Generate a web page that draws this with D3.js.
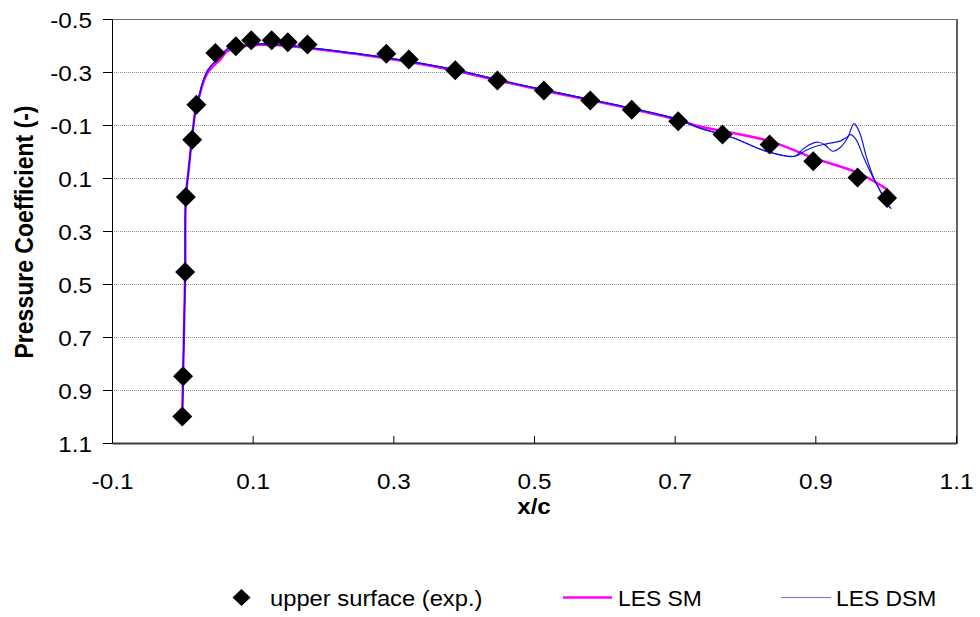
<!DOCTYPE html>
<html>
<head>
<meta charset="utf-8">
<script src="https://cdn.jsdelivr.net/npm/d3@7"></script>
<style>
  html, body { margin: 0; padding: 0; background: #fff; }
  svg { display: block; }
  text { font-family: "Liberation Sans", Arial, Helvetica, sans-serif; fill: #000; }
</style>
</head>
<body>
<svg id="chart" width="980" height="617"></svg>
<script>
// ---------- data ----------
const xTicks = [-0.1, 0.1, 0.3, 0.5, 0.7, 0.9, 1.1];
const yTicks = [-0.5, -0.3, -0.1, 0.1, 0.3, 0.5, 0.7, 0.9, 1.1];

// experiment: upper surface
const expX  = [0.000, 0.001, 0.004, 0.005, 0.014, 0.020, 0.047, 0.076, 0.098, 0.127, 0.150, 0.178, 0.290, 0.322, 0.388, 0.448, 0.514, 0.580, 0.639, 0.705, 0.768, 0.835, 0.897, 0.960, 1.002];
const expCp = [1.000, 0.848, 0.455, 0.172, -0.044, -0.176, -0.372, -0.397, -0.420, -0.420, -0.412, -0.404, -0.369, -0.347, -0.307, -0.268, -0.230, -0.192, -0.158, -0.114, -0.064, -0.026, 0.037, 0.098, 0.175];

// LES SM
const smX  = [0.000, 0.001, 0.004, 0.005, 0.009, 0.0135, 0.020, 0.024, 0.029, 0.036, 0.043, 0.053, 0.064, 0.081, 0.110, 0.138, 0.176, 0.280, 0.387, 0.448, 0.514, 0.579, 0.639, 0.704, 0.735, 0.835, 0.897, 0.960, 1.002];
const smCp = [0.990, 0.849, 0.458, 0.174, 0.068, -0.045, -0.177, -0.207, -0.255, -0.297, -0.320, -0.345, -0.378, -0.394, -0.403, -0.401, -0.391, -0.356, -0.306, -0.268, -0.230, -0.194, -0.160, -0.119, -0.095, -0.039, 0.024, 0.080, 0.143];

// LES DSM (two traces)
const dsm1X  = [0.000, 0.001, 0.004, 0.005, 0.009, 0.0135, 0.020, 0.024, 0.029, 0.036, 0.043, 0.053, 0.064, 0.081, 0.110, 0.138, 0.176, 0.280, 0.387, 0.448, 0.514, 0.579, 0.639, 0.704, 0.735, 0.783, 0.830, 0.871, 0.882, 0.892, 0.904, 0.913, 0.925, 0.935, 0.946, 0.955, 0.963, 0.973, 0.984, 0.994, 1.003, 1.008];
const dsm1Cp = [0.990, 0.849, 0.458, 0.174, 0.068, -0.045, -0.177, -0.211, -0.262, -0.306, -0.330, -0.356, -0.387, -0.399, -0.406, -0.403, -0.393, -0.358, -0.309, -0.271, -0.233, -0.197, -0.163, -0.122, -0.089, -0.052, -0.001, 0.018, -0.008, -0.026, -0.035, -0.026, -0.001, -0.014, -0.052, -0.105, -0.071, 0.024, 0.106, 0.156, 0.200, 0.216];
const dsm2X  = [0.000, 0.001, 0.004, 0.005, 0.009, 0.0135, 0.020, 0.024, 0.029, 0.036, 0.043, 0.053, 0.064, 0.081, 0.110, 0.138, 0.176, 0.280, 0.387, 0.448, 0.514, 0.579, 0.639, 0.704, 0.735, 0.783, 0.830, 0.871, 0.887, 0.899, 0.916, 0.935, 0.944, 0.950, 0.958, 0.968, 0.980, 0.991, 1.001, 1.006];
const dsm2Cp = [0.990, 0.849, 0.458, 0.174, 0.068, -0.045, -0.177, -0.211, -0.262, -0.306, -0.330, -0.356, -0.387, -0.399, -0.406, -0.403, -0.393, -0.358, -0.309, -0.271, -0.233, -0.197, -0.163, -0.122, -0.089, -0.052, -0.001, 0.018, -0.005, -0.018, -0.029, -0.039, -0.052, -0.064, -0.045, 0.018, 0.087, 0.143, 0.194, 0.212];

const legendLabels = ["upper surface (exp.)", "LES SM", "LES DSM"];

// ---------- chart ----------
const svg = d3.select("#chart");
const L = 112, R = 956, T = 19, B = 443;
const SX = 1.08; // slight horizontal text stretch of original

const x = d3.scaleLinear().domain([-0.1, 1.1]).range([L, R]);
const y = d3.scaleLinear().domain([-0.5, 1.1]).range([T, B]);
const fmt = d => d.toFixed(1);

// gridlines
svg.append("g")
  .selectAll("line").data(yTicks).join("line")
  .attr("x1", L).attr("x2", R)
  .attr("y1", d => y(d) + 0.5).attr("y2", d => y(d) + 0.5)
  .attr("stroke", "#8a8a8a").attr("stroke-width", 1)
  .attr("stroke-dasharray", "1,1");

// plot border (top/right)
svg.append("line").attr("x1", L).attr("x2", R + 1).attr("y1", T + 0.5).attr("y2", T + 0.5)
  .attr("stroke", "#707070").attr("stroke-width", 1);
svg.append("line").attr("x1", R + 1).attr("x2", R + 1).attr("y1", T).attr("y2", B + 1)
  .attr("stroke", "#606060").attr("stroke-width", 2);

// y axis
const yAxis = svg.append("g").attr("transform", `translate(${L},0)`)
  .call(d3.axisLeft(y).tickValues(yTicks).tickFormat(fmt).tickSizeOuter(0).tickSize(9));
yAxis.select(".domain").attr("stroke", "#000");
yAxis.selectAll(".tick line").attr("stroke", "#000");
yAxis.selectAll(".tick text")
  .attr("x", null).attr("dy", null)
  .attr("font-size", 22.5)
  .attr("text-anchor", "end")
  .attr("transform", `translate(-20,8.5) scale(${SX},1)`);

// x axis
const xAxis = svg.append("g").attr("transform", `translate(0,${B})`)
  .call(d3.axisBottom(x).tickValues(xTicks).tickFormat(fmt).tickSizeOuter(0).tickSizeInner(-7));
xAxis.select(".domain").attr("stroke", "#3a3a3a").attr("stroke-width", 2);
xAxis.selectAll(".tick line").attr("stroke", "#000");
xAxis.selectAll(".tick text")
  .attr("y", null).attr("dy", null)
  .attr("font-size", 22.5)
  .attr("text-anchor", "middle")
  .attr("transform", `translate(0,45.5) scale(${SX},1)`);

// axis titles
svg.append("text")
  .attr("transform", `translate(534,514) scale(1.1,1)`)
  .attr("text-anchor", "middle").attr("font-size", 22).attr("font-weight", "bold")
  .text("x/c");
svg.append("text")
  .attr("transform", `translate(33,232) scale(1.12,1) rotate(-90)`)
  .attr("text-anchor", "middle").attr("font-size", 23).attr("font-weight", "bold")
  .text("Pressure Coefficient (-)");

// lines
const line = d3.line().x(d => x(d[0])).y(d => y(d[1])).curve(d3.curveCatmullRom.alpha(0.5));
const smData = smX.map((v, i) => [v, smCp[i]]);
const dsm1Data = dsm1X.map((v, i) => [v, dsm1Cp[i]]);
const dsm2Data = dsm2X.map((v, i) => [v, dsm2Cp[i]]);

svg.append("path").datum(smData).attr("d", line)
  .attr("fill", "none").attr("stroke", "#ff00ff").attr("stroke-width", 2.5);
[dsm1Data, dsm2Data].forEach(dd => {
  svg.append("path").datum(dd).attr("d", line)
    .attr("fill", "none").attr("stroke", "#1414e6").attr("stroke-width", 1.2);
});

// diamonds
const diamond = (w, h) => `M0,${-h}L${w},0L0,${h}L${-w},0Z`;
svg.append("g").selectAll("path").data(expX.map((v, i) => [v, expCp[i]])).join("path")
  .attr("transform", d => `translate(${x(d[0])},${y(d[1])})`)
  .attr("d", diamond(10, 10))
  .attr("fill", "#000");

// legend
const lg = svg.append("g");
lg.append("path").attr("transform", "translate(241.5,597.5)").attr("d", diamond(9, 8.5)).attr("fill", "#000");
lg.append("text").attr("transform", `translate(270,605.5) scale(1.08,1)`).attr("font-size", 22).text(legendLabels[0]);
lg.append("line").attr("x1", 563).attr("x2", 612).attr("y1", 597.5).attr("y2", 597.5)
  .attr("stroke", "#ff00ff").attr("stroke-width", 2.5);
lg.append("text").attr("transform", `translate(618,605.5) scale(1.04,1)`).attr("font-size", 22).text(legendLabels[1]);
lg.append("line").attr("x1", 781).attr("x2", 831).attr("y1", 597.5).attr("y2", 597.5)
  .attr("stroke", "#6f6ff5").attr("stroke-width", 1.2);
lg.append("text").attr("transform", `translate(836,605.5) scale(1.04,1)`).attr("font-size", 22).text(legendLabels[2]);
</script>
</body>
</html>
